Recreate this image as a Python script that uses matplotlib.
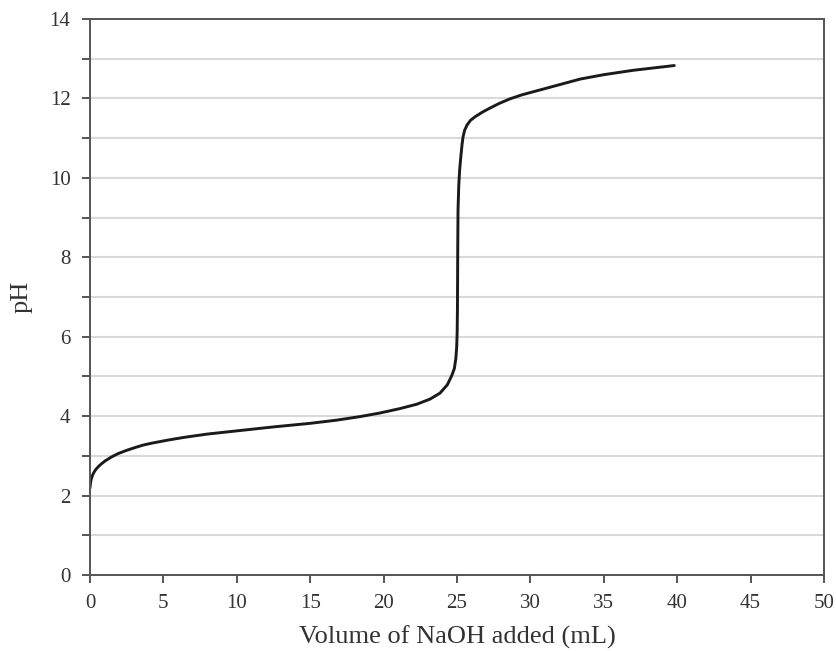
import matplotlib.pyplot as plt
from matplotlib.ticker import MultipleLocator

# Titration curve values
volume_ml = [0.0, 0.03, 0.07, 0.14, 0.23, 0.36, 0.57, 0.78, 1.02, 1.45, 1.93, 2.5, 3.07,
             3.6, 4.2, 5.34, 6.47, 8.0, 10.0, 12.5, 15.0, 16.8, 18.4, 19.75, 21.1,
             22.25, 23.16, 23.84, 24.34, 24.64, 24.82, 24.92, 24.98, 25.01,
             25.03, 25.04, 25.05, 25.07, 25.12, 25.18, 25.27, 25.34, 25.41, 25.52,
             25.68, 25.92, 26.23, 26.7, 27.25, 27.9, 28.6, 29.4, 30.3, 31.5, 33.4,
             35.0, 37.0, 39.8]
ph = [2.19, 2.3, 2.39, 2.48, 2.56, 2.64, 2.73, 2.8, 2.87, 2.97, 3.06, 3.14, 3.21,
      3.27, 3.32, 3.4, 3.47, 3.55, 3.63, 3.73, 3.82, 3.9, 3.99, 4.08, 4.19,
      4.3, 4.43, 4.58, 4.79, 5.02, 5.2, 5.45, 5.75, 6.1,
      6.7, 7.4, 8.2, 9.2, 9.8, 10.2, 10.57, 10.83, 11.03, 11.2,
      11.33, 11.45, 11.54, 11.65, 11.76, 11.88, 11.99, 12.09, 12.18, 12.3, 12.49,
      12.6, 12.71, 12.83]

plt.rcParams['font.family'] = ['Liberation Serif', 'DejaVu Serif']

fig = plt.figure(figsize=(8.37, 6.51), dpi=100)
ax = fig.add_axes([0.1075, 0.1167, 0.877, 0.854])

ax.plot(volume_ml, ph, color='#1a1a1a', linewidth=2.1,
        solid_capstyle='round', solid_joinstyle='round')

ax.set_xlim(0, 50)
ax.set_ylim(0, 14)
ax.xaxis.set_major_locator(MultipleLocator(5))
ax.yaxis.set_major_locator(MultipleLocator(2))
ax.yaxis.set_minor_locator(MultipleLocator(1))
ax.grid(True, which='both', axis='y', color='#d9d9d9', linewidth=1.5)
ax.set_axisbelow(True)

for side in ax.spines.values():
    side.set_color('#555555')
    side.set_linewidth(1.4)

ax.tick_params(which='both', direction='out', color='#555555', width=1.4,
               length=6, pad=8, labelsize=15, labelcolor='#333333')

ax.set_xlabel('Volume of NaOH added (mL)', fontsize=19, color='#333333', labelpad=9)
ax.set_ylabel('pH', fontsize=19, color='#333333', labelpad=12)

fig.savefig('out.png', dpi=100)
